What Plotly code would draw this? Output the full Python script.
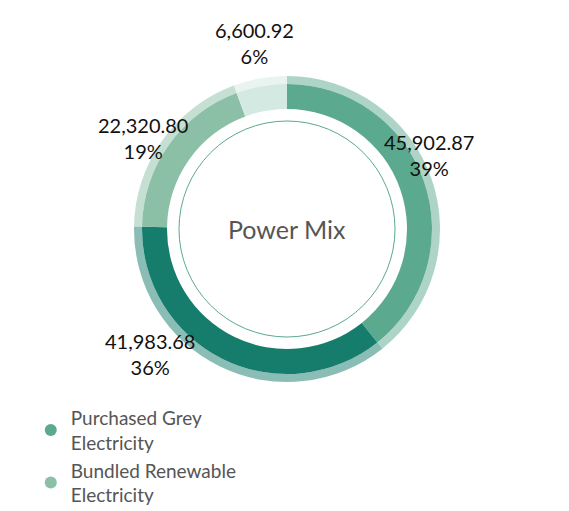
import plotly.graph_objects as go

labels = ["Purchased Grey Electricity", "Unbundled Renewable Electricity",
          "Bundled Renewable Electricity", "Self-Generated Photovoltaics"]
legend_names = ["Purchased Grey<br>Electricity", "Unbundled Renewable<br>Electricity",
                "Bundled Renewable<br>Electricity", "Self-Generated<br>Photovoltaics"]
legend_order = [0, 2, 1, 3]
values = [45902.87, 41983.68, 22320.80, 6600.92]
pcts = ["39%", "36%", "19%", "6%"]
colors = ["#5BA98E", "#167C6C", "#8BBFA6", "#D4E9E1"]
outer_colors = ["rgba(91,169,142,0.5)", "rgba(22,124,108,0.5)",
                "rgba(139,191,166,0.5)", "rgba(212,233,225,0.5)"]

W, H = 569, 511
cx, cy, R = 279, 221, 153
r2 = 145
r3 = 108

fig = go.Figure()
fig.add_trace(go.Pie(labels=labels, values=values, hole=145 / 153, sort=False,
                     direction="clockwise", rotation=0, textinfo="none",
                     marker=dict(colors=outer_colors, line=dict(width=0)),
                     showlegend=False, hoverinfo="skip",
                     domain=dict(x=[(cx - R) / W, (cx + R) / W],
                                 y=[1 - (cy + R) / H, 1 - (cy - R) / H])))
fig.add_trace(go.Pie(labels=labels, values=values, hole=120 / 145, sort=False,
                     direction="clockwise", rotation=0, textinfo="none",
                     marker=dict(colors=colors, line=dict(width=0)),
                     showlegend=False,
                     domain=dict(x=[(cx - r2) / W, (cx + r2) / W],
                                 y=[1 - (cy + r2) / H, 1 - (cy - r2) / H])))
for i in legend_order:
    fig.add_trace(go.Scatter(x=[None], y=[None], mode="markers", name=legend_names[i],
                             marker=dict(color=colors[i], size=18, symbol="circle")))

fig.add_shape(type="circle", xref="paper", yref="paper",
              x0=(cx - r3) / W, x1=(cx + r3) / W, y0=1 - (cy + r3) / H, y1=1 - (cy - r3) / H,
              line=dict(color="#5BA98E", width=1))
fig.add_annotation(text="Power Mix", x=cx / W, y=1 - cy / H, xref="paper", yref="paper",
                   showarrow=False, font=dict(size=25, color="#555555"))

label_pos = [(468, 147), (95, 346), (88, 130), (246, 35)]
for i, (lx, ly) in enumerate(label_pos):
    fig.add_annotation(text=f"{values[i]:,.2f}<br>{pcts[i]}", x=lx / W, y=1 - ly / H,
                       xref="paper", yref="paper", showarrow=False, align="center",
                       font=dict(size=20, color="#111111"), yanchor="middle")

fig.update_layout(width=W, height=H, margin=dict(l=0, r=0, t=0, b=0, autoexpand=False),
                  paper_bgcolor="white", plot_bgcolor="white",
                  font=dict(family="Lato"),
                  xaxis=dict(visible=False), yaxis=dict(visible=False),
                  legend=dict(orientation="h", x=0.04, y=0.235, xanchor="left", yanchor="top",
                              entrywidth=245, entrywidthmode="pixels", itemsizing="constant",
                              font=dict(size=19, color="#555555"), tracegroupgap=0))
fig.write_html("out.html")
